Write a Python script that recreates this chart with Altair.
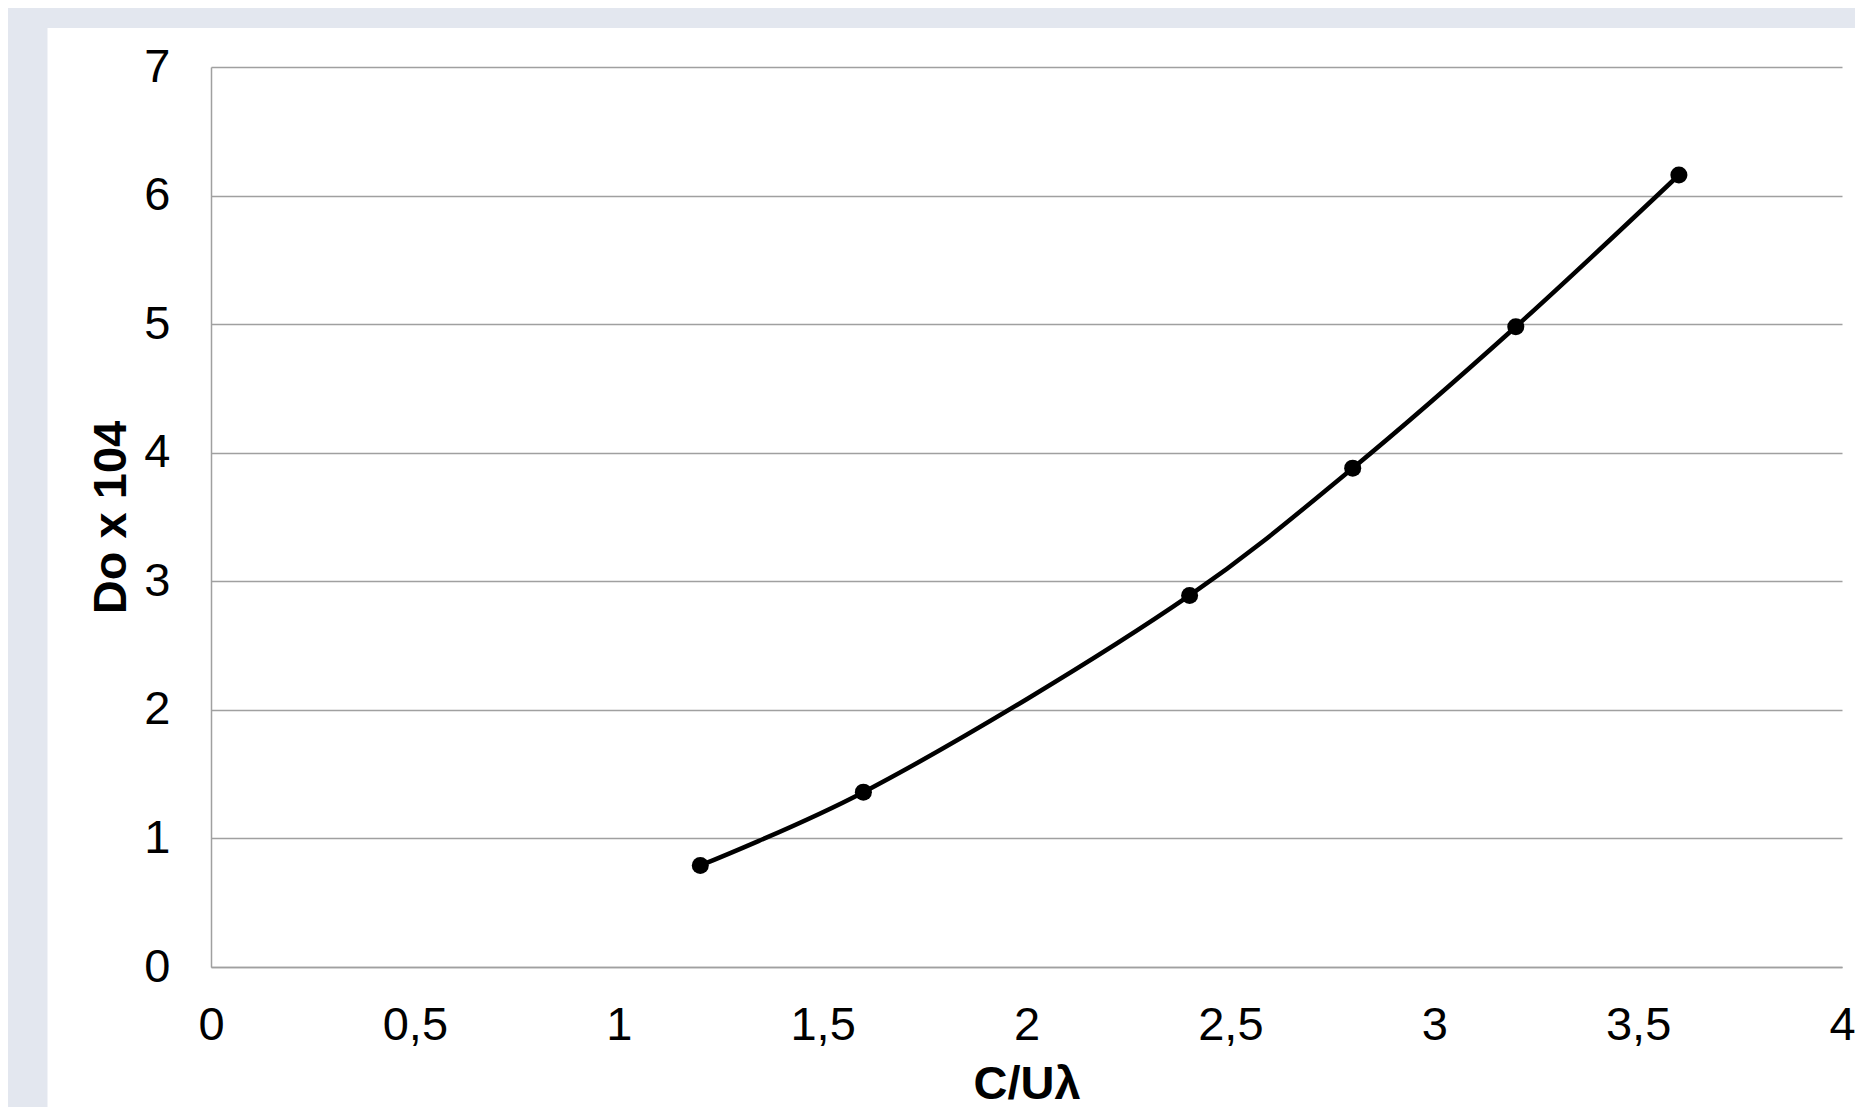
import altair as alt
import pandas as pd

# ---- data ----
x_values = [1.2, 1.6, 2.4, 2.8, 3.2, 3.6]
y_values = [0.79, 1.36, 2.89, 3.88, 4.98, 6.16]
x_ticks = [0, 0.5, 1, 1.5, 2, 2.5, 3, 3.5, 4]
y_ticks = [0, 1, 2, 3, 4, 5, 6, 7]
x_title = "C/Uλ"
y_title = "Do x 104"

# ---- layout / style ----
W, H = 1631, 900
PL, PT, PR, PB = 203, 59, 13, 140
BG = "#E3E7EF"
GRID = "#A0A0A0"
FONT = "Liberation Sans"
FS = 47

df = pd.DataFrame({"x": x_values, "y": y_values})

xscale = alt.Scale(domain=[0, 4], nice=False, zero=True)
yscale = alt.Scale(domain=[0, 7], nice=False, zero=True)

x_axis = alt.Axis(
    values=x_ticks,
    labelExpr="replace(toString(datum.value), '.', ',')",
    title=x_title,
    grid=False,
    ticks=False,
    tickSize=0,
    domain=True,
    domainColor=GRID,
    domainWidth=1.5,
    labelPadding=35,
    labelFont=FONT,
    labelFontSize=FS,
    labelColor="black",
    labelFlush=False,
    labelOverlap=False,
    titleFont=FONT,
    titleFontSize=FS,
    titleFontWeight="bold",
    titleColor="black",
    titleBaseline="alphabetic",
    titleY=131,
)

y_axis = alt.Axis(
    values=y_ticks,
    title=y_title,
    grid=True,
    gridColor=GRID,
    gridWidth=1.5,
    ticks=False,
    tickSize=0,
    domain=True,
    domainColor=GRID,
    domainWidth=1.5,
    labelPadding=41,
    labelFont=FONT,
    labelFontSize=FS,
    labelColor="black",
    labelFlush=False,
    labelOverlap=False,
    titleFont=FONT,
    titleFontSize=FS,
    titleFontWeight="bold",
    titleColor="black",
    titleBaseline="alphabetic",
    titleAngle=270,
    titleX=-86,
    titleY=H / 2,
)

one = alt.Data(values=[{"k": 1}])

top_strip = alt.Chart(one).mark_rect(color=BG).encode(
    x=alt.value(-PL), x2=alt.value(W + PR), y=alt.value(-PT), y2=alt.value(-39)
)
left_strip = alt.Chart(one).mark_rect(color=BG).encode(
    x=alt.value(-PL), x2=alt.value(-163.5), y=alt.value(-PT), y2=alt.value(H + PB)
)

base = alt.Chart(df).encode(
    x=alt.X("x:Q", scale=xscale, axis=x_axis),
    y=alt.Y("y:Q", scale=yscale, axis=y_axis),
)
line = base.mark_line(color="black", strokeWidth=4.5, interpolate="catmull-rom")
points = base.mark_point(filled=True, color="black", size=290, opacity=1)

chart = (
    alt.layer(top_strip, left_strip, line, points)
    .properties(
        width=W,
        height=H,
        padding={"left": PL, "top": PT, "right": PR, "bottom": PB},
        autosize=alt.AutoSizeParams(type="none"),
        background="white",
    )
    .configure_view(strokeWidth=0)
)

chart.save("out.html", embed_options={"renderer": "svg", "actions": False})
